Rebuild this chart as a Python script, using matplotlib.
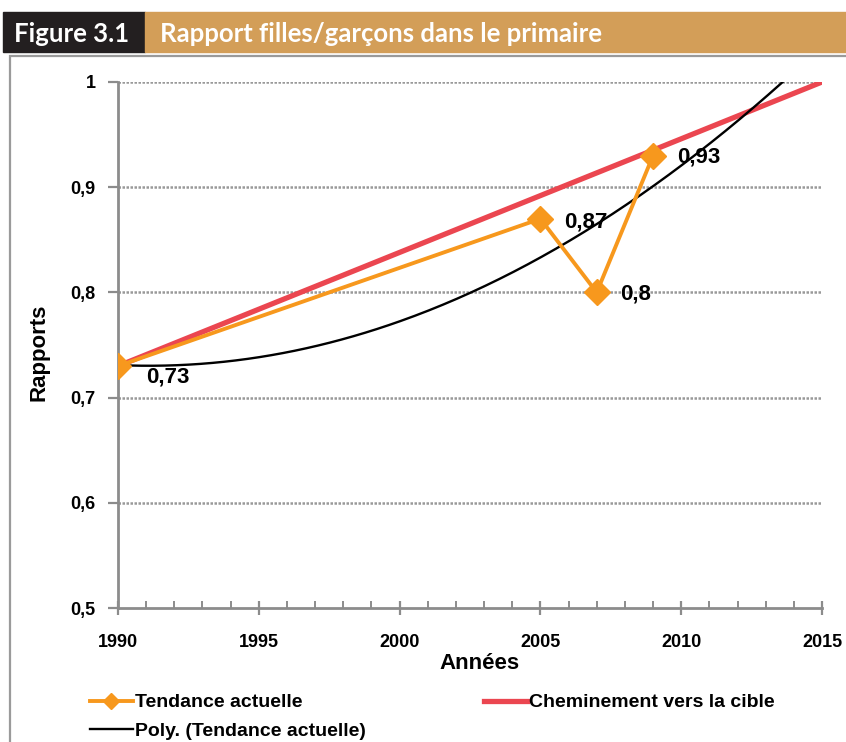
import numpy as np
import matplotlib.pyplot as plt
from matplotlib.patches import Rectangle

# data
years = [1990, 2005, 2007, 2009]
ratios = [0.73, 0.87, 0.80, 0.93]
labels = ['0,73', '0,87', '0,8', '0,93']
target_years = [1990, 2015]
target_ratios = [0.73, 1.0]

orange = '#F7981D'
red = '#EB4650'
grey = '#8C8C8C'

plt.rcParams['font.family'] = ['Liberation Sans', 'DejaVu Sans']

fig = plt.figure(figsize=(8.46, 7.42), dpi=100)

# header band + frame
fig.patches.append(Rectangle((3/846, 1-52/742), 142/846, 40/742, transform=fig.transFigure,
                             color='#231F20', zorder=0))
fig.patches.append(Rectangle((145/846, 1-52/742), 701/846, 40/742, transform=fig.transFigure,
                             color='#D39E58', zorder=0))
fig.patches.append(Rectangle((10/846, -0.05), 1.0, 1-56/742+0.05, transform=fig.transFigure,
                             fill=False, edgecolor='#9A9A9A', lw=1.6, zorder=0))
hdr = ['Lato', 'DejaVu Sans']
fig.text(14/846, 1-34/742, 'Figure 3.1', color='white', fontsize=18.5, fontweight='bold',
         family=hdr, va='center', ha='left')
fig.text(160/846, 1-34/742, 'Rapport filles/garçons dans le primaire', color='white',
         fontsize=18.5, fontweight='bold', family=hdr, va='center', ha='left')

ax = fig.add_axes([118/846, 1-608/742, 704/846, 526/742])

# polynomial trend (order 2) like the spreadsheet trendline
coef = np.polyfit(np.array(years) - 1990, ratios, 2)
xs = np.linspace(1990, 2015, 300)
ax.plot(xs, np.polyval(coef, xs - 1990), color='black', lw=1.7, zorder=3,
        label='Poly. (Tendance actuelle)')
ax.plot(years, ratios, color=orange, lw=2.8, marker='D', markersize=13, zorder=4,
        label='Tendance actuelle')
ax.plot(target_years, target_ratios, color=red, lw=3.8, zorder=2,
        label='Cheminement vers la cible')

offsets = [(20, -8), (17, -2), (17, -1), (17, -1)]
for x, y, t, off in zip(years, ratios, labels, offsets):
    ax.annotate(t, (x, y), xytext=off, textcoords='offset points', fontsize=16,
                fontweight='bold', va='center', ha='left', zorder=5)

ax.set_xlim(1990, 2015)
ax.set_ylim(0.5, 1.0)
ax.set_xticks(range(1990, 2016, 5))
ax.set_xticks(range(1990, 2016), minor=True)
ax.set_yticks([0.5, 0.6, 0.7, 0.8, 0.9, 1.0])
ax.set_yticklabels(['0,5', '0,6', '0,7', '0,8', '0,9', '1'])
for y in [0.6, 0.7, 0.8, 0.9, 1.0]:
    ax.axhline(y, color='#999999', lw=1.8, ls=(0, (1, 0.6)), zorder=1)

for s in ['top', 'right']:
    ax.spines[s].set_visible(False)
for s in ['left', 'bottom']:
    ax.spines[s].set_color(grey)
    ax.spines[s].set_linewidth(2)
ax.tick_params(axis='x', which='major', direction='inout', length=10, width=1.6, color=grey,
               labelsize=13, pad=14)
ax.tick_params(axis='x', which='minor', direction='in', length=5, width=1.4, color=grey)
ax.tick_params(axis='y', which='major', direction='out', length=7, width=1.6, color=grey,
               labelsize=13, pad=9)
for lab in ax.get_xticklabels() + ax.get_yticklabels():
    lab.set_fontweight('bold')

ax.set_xlabel('Années', fontsize=16, fontweight='bold')
ax.set_ylabel('Rapports', fontsize=16, fontweight='bold')
ax.xaxis.set_label_coords(0.513, -0.086)
ax.yaxis.set_label_coords(-0.097, 0.487)

h, l = ax.get_legend_handles_labels()
order = [1, 0, 2]
ax.legend([h[i] for i in order], [l[i] for i in order], ncol=2, frameon=False,
          loc='upper left', bbox_to_anchor=(82/846, 1-686/742), bbox_transform=fig.transFigure,
          prop={'weight': 'bold', 'size': 14}, columnspacing=6.1, markerscale=0.6,
          handlelength=2.2, handletextpad=0.1, labelspacing=0.55, borderaxespad=0)

fig.savefig('out.png', dpi=100)
